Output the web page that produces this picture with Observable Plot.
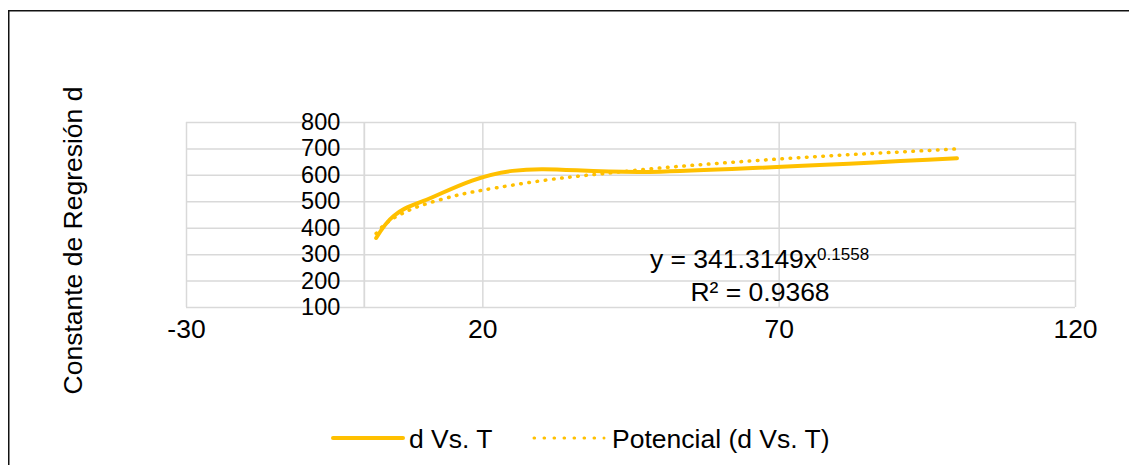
<!DOCTYPE html>
<html>
<head>
<meta charset="utf-8">
<script src="https://cdn.jsdelivr.net/npm/d3@7"></script>
<script src="https://cdn.jsdelivr.net/npm/@observablehq/plot@0.6"></script>
<style>
  html, body { margin: 0; padding: 0; width: 1129px; height: 465px; overflow: hidden; background: #fff; }
  #chart { position: absolute; left: 0; top: 0; }
</style>
</head>
<body>
<div id="chart"></div>
<script>
// Series "d Vs. T"
const T = [2, 5, 10, 25, 50, 100];
const dValues = [363, 447, 503, 617, 614, 665];

// Trendline "Potencial (d Vs. T)"
const trendT = [2, 3, 4, 5, 7, 10, 15, 20, 30, 40, 50, 60, 70, 80, 90, 100];
const trendD = [380, 405, 424, 439, 462, 489, 521, 544, 580, 606, 628, 646, 662, 676, 688, 700];

// Axis ticks
const xTicks = [-30, 20, 70, 120];
const yTicks = [100, 200, 300, 400, 500, 600, 700, 800];

// Texts
const yTitle = "Constante de Regresión d";
const eqMain = "y = 341.3149x";
const eqExp = "0.1558";
const eqR2 = "R² = 0.9368";
const seriesName = "d Vs. T";
const trendName = "Potencial (d Vs. T)";

const gold = "#FFC000";
const grid = "#d9d9d9";
const font = "'Liberation Sans', Arial, sans-serif";
const fs = 26.5;
const fsY = 23.5;

const plot = Plot.plot({
  width: 1129,
  height: 465,
  marginLeft: 186,
  marginRight: 54,
  marginTop: 122,
  marginBottom: 158,
  style: { fontFamily: font, fontSize: fs + "px", background: "transparent", color: "#000" },
  x: { domain: [-30, 120], axis: null },
  y: { domain: [100, 800], axis: null },
  marks: [
    Plot.gridY(yTicks, { stroke: grid, strokeOpacity: 1, strokeWidth: 1.5 }),
    Plot.gridX(xTicks, { stroke: grid, strokeOpacity: 1, strokeWidth: 1.5 }),
    Plot.ruleX([0], { stroke: grid, strokeWidth: 1.8 }),
    Plot.text(yTicks, { x: () => 0, y: d => d, text: d => String(d), textAnchor: "end", dx: -24, fontSize: fsY, fill: "#000" }),
    Plot.text(xTicks, { x: d => d, frameAnchor: "bottom", dy: 30.5, text: d => String(d), fontSize: fs, fill: "#000" }),
    Plot.line(T, { x: T, y: dValues, curve: "cardinal", stroke: gold, strokeWidth: 4, strokeLinecap: "round", strokeLinejoin: "round" }),
    Plot.line(trendT, { x: trendT, y: trendD, curve: "natural", stroke: gold, strokeWidth: 3.5, strokeDasharray: "0.6 7.6", strokeLinecap: "round" })
  ]
});

document.getElementById("chart").appendChild(plot);
const svg = d3.select(plot);

// outer chart border (cropped on right and bottom)
svg.insert("rect", ":first-child")
  .attr("x", 8.75).attr("y", 10.75).attr("width", 1300).attr("height", 600)
  .attr("fill", "none").attr("stroke", "#111").attr("stroke-width", 1.5);

// y-axis title
svg.append("text")
  .attr("transform", "translate(82,240.5) rotate(-90)")
  .attr("text-anchor", "middle")
  .attr("font-size", fs)
  .attr("fill", "#000")
  .text(yTitle);

// trendline equation
const eq = svg.append("text")
  .attr("x", 759.5).attr("y", 268)
  .attr("text-anchor", "middle")
  .attr("font-size", fs)
  .attr("fill", "#000");
eq.append("tspan").text(eqMain);
eq.append("tspan").attr("font-size", 17).attr("dy", -8).text(eqExp);

svg.append("text")
  .attr("x", 760).attr("y", 301)
  .attr("text-anchor", "middle")
  .attr("font-size", fs)
  .attr("fill", "#000")
  .text(eqR2);

// legend
const lg = svg.append("g");
lg.append("line").attr("x1", 333).attr("x2", 403).attr("y1", 438).attr("y2", 438)
  .attr("stroke", gold).attr("stroke-width", 4).attr("stroke-linecap", "round");
lg.append("text").attr("x", 409).attr("y", 447.5).attr("text-anchor", "start")
  .attr("font-size", fs).attr("fill", "#000").text(seriesName);
lg.append("line").attr("x1", 534).attr("x2", 604).attr("y1", 438).attr("y2", 438)
  .attr("stroke", gold).attr("stroke-width", 3).attr("stroke-dasharray", "0.6 9.4").attr("stroke-linecap", "round");
lg.append("text").attr("x", 612).attr("y", 447.5).attr("text-anchor", "start")
  .attr("font-size", fs).attr("fill", "#000").text(trendName);
</script>
</body>
</html>
